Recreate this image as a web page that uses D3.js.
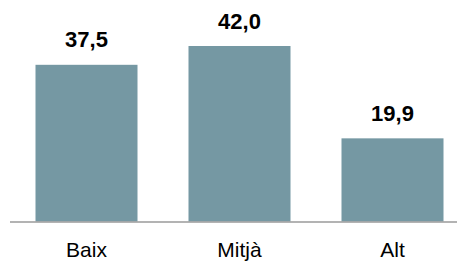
<!DOCTYPE html>
<html>
<head>
<meta charset="utf-8">
<script src="https://cdn.jsdelivr.net/npm/d3@7"></script>
<style>
body{margin:0;background:#fff}
svg text{font-family:"Liberation Sans",Arial,sans-serif}
</style>
</head>
<body>
<div id="chart"></div>
<script>
var categories = ["Baix","Mitjà","Alt"]
var values = [37.5,42.0,19.9]
var valueLabels = ["37,5","42,0","19,9"]

var width = 457
var height = 261
var baseline = 221.5

var svg = d3.select("#chart").append("svg")
	.attr("width",width)
	.attr("height",height)

var xScale = d3.scaleBand().domain(categories).range([10,469])
	.paddingInner(1/3).paddingOuter(1/6)
var yScale = d3.scaleLinear().domain([0,42]).range([baseline,46])

svg.selectAll(".bars")
	.data(values)
	.enter()
	.append("rect")
	.attr("class","bars")
	.attr("x",function(d,i){return xScale(categories[i])})
	.attr("y",function(d){return yScale(d)})
	.attr("width",xScale.bandwidth())
	.attr("height",function(d){return baseline-yScale(d)})
	.attr("fill","#7598a3")

// axis line
svg.append("line")
	.attr("x1",10).attr("x2",width)
	.attr("y1",baseline+0.5).attr("y2",baseline+0.5)
	.attr("stroke","#9a9a9a")
	.attr("stroke-width",1.5)

svg.selectAll(".vals")
	.data(values)
	.enter()
	.append("text")
	.attr("class","vals")
	.attr("x",function(d,i){return xScale(categories[i])+xScale.bandwidth()/2})
	.attr("y",function(d){return yScale(d)-17.5})
	.attr("text-anchor","middle")
	.attr("font-size","22px")
	.attr("font-weight","bold")
	.attr("fill","#000")
	.text(function(d,i){return valueLabels[i]})

svg.selectAll(".cats")
	.data(categories)
	.enter()
	.append("text")
	.attr("class","cats")
	.attr("x",function(d){return xScale(d)+xScale.bandwidth()/2})
	.attr("y",256.5)
	.attr("text-anchor","middle")
	.attr("font-size","21px")
	.attr("fill","#000")
	.text(function(d){return d})
</script>
</body>
</html>
